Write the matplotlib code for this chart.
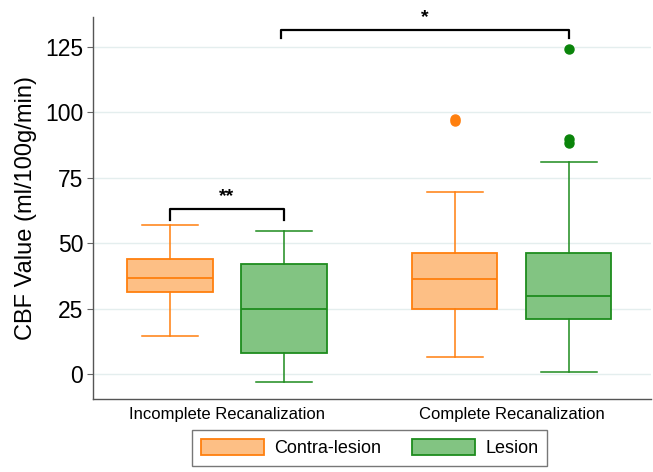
import matplotlib
matplotlib.use("Agg")
import matplotlib.pyplot as plt
from matplotlib.patches import Patch

plt.rcParams['font.family'] = ['Liberation Sans', 'DejaVu Sans']

groups = ['Incomplete Recanalization', 'Complete Recanalization']
series = ['Contra-lesion', 'Lesion']

# box stats: [incomplete, complete]
contra_low = [14.6, 6.4]
contra_q1 = [31.2, 24.8]
contra_med = [36.6, 36.5]
contra_q3 = [43.9, 46.1]
contra_high = [57.0, 69.6]
contra_out = [[], [96.5, 97.5]]

lesion_low = [-3.2, 0.8]
lesion_q1 = [8.1, 21.0]
lesion_med = [24.7, 29.8]
lesion_q3 = [41.9, 46.4]
lesion_high = [54.5, 80.9]
lesion_out = [[], [88.3, 89.8, 124.2]]

edge_cols = ['#ff7f0e', '#1e8c1e']
fill_cols = ['#fdbf85', '#82c482']
flier_cols = ['#ff7f0e', '#0a840a']


def make_stats(low, q1, med, q3, high, out):
    stats = []
    for i in range(len(low)):
        stats.append({'whislo': low[i], 'q1': q1[i], 'med': med[i], 'q3': q3[i],
                      'whishi': high[i], 'fliers': out[i]})
    return stats


fig = plt.figure(figsize=(6.53, 4.72), dpi=100)
ax = fig.add_axes([0.1424, 0.1547, 0.855, 0.809])

offsets = [-0.2, 0.2]
all_stats = [
    make_stats(contra_low, contra_q1, contra_med, contra_q3, contra_high, contra_out),
    make_stats(lesion_low, lesion_q1, lesion_med, lesion_q3, lesion_high, lesion_out),
]

for k in range(2):
    ec = edge_cols[k]
    pos = [g + offsets[k] for g in range(len(groups))]
    ax.bxp(all_stats[k], positions=pos, widths=0.30, patch_artist=True,
           capwidths=0.197, showfliers=True,
           boxprops=dict(facecolor=fill_cols[k], edgecolor=ec, linewidth=1.3),
           medianprops=dict(color=ec, linewidth=1.3),
           whiskerprops=dict(color=ec, linewidth=1.1),
           capprops=dict(color=ec, linewidth=1.1),
           flierprops=dict(marker='o', markerfacecolor=flier_cols[k],
                           markeredgecolor=flier_cols[k], markersize=6.5))

ax.set_xlim(-0.47, 1.49)
ax.set_ylim(-9.5, 136.3)
ax.set_yticks([0, 25, 50, 75, 100, 125])
ax.set_xticks(range(len(groups)))
ax.set_xticklabels(groups, fontsize=12)
ax.tick_params(axis='x', length=0, pad=6)
ax.tick_params(axis='y', labelsize=16.5, length=4, color='#666666', pad=3)
ax.set_ylabel('CBF Value (ml/100g/min)', fontsize=17, labelpad=6)

ax.yaxis.grid(True, color='#e4eeee', linewidth=1.0)
ax.set_axisbelow(True)
for s in ['top', 'right']:
    ax.spines[s].set_visible(False)
for s in ['left', 'bottom']:
    ax.spines[s].set_color('#555555')
    ax.spines[s].set_linewidth(1.0)

# significance brackets
def bracket(x1, x2, y, drop, label):
    ax.plot([x1, x1, x2, x2], [y - drop, y, y, y - drop], color='black',
            linewidth=1.6, clip_on=False)
    ax.text((x1 + x2) / 2, y + 1.5, label, ha='center', va='bottom',
            fontsize=14, fontweight='bold', clip_on=False)

bracket(-0.2, 0.2, 62.9, 4.0, '**')
bracket(0.19, 1.2, 131.3, 2.8, '*')

handles = [Patch(facecolor=fill_cols[k], edgecolor=edge_cols[k], linewidth=1.3)
           for k in range(2)]
leg = fig.legend(handles, series, loc='center', bbox_to_anchor=(0.566, 0.051),
                 ncol=2, fontsize=13, frameon=True, fancybox=False,
                 edgecolor='#555555', handlelength=3.5, handleheight=0.95,
                 handletextpad=0.55, columnspacing=1.7, borderpad=0.5)
leg.get_frame().set_linewidth(1.0)

fig.savefig('out.png', dpi=100)
